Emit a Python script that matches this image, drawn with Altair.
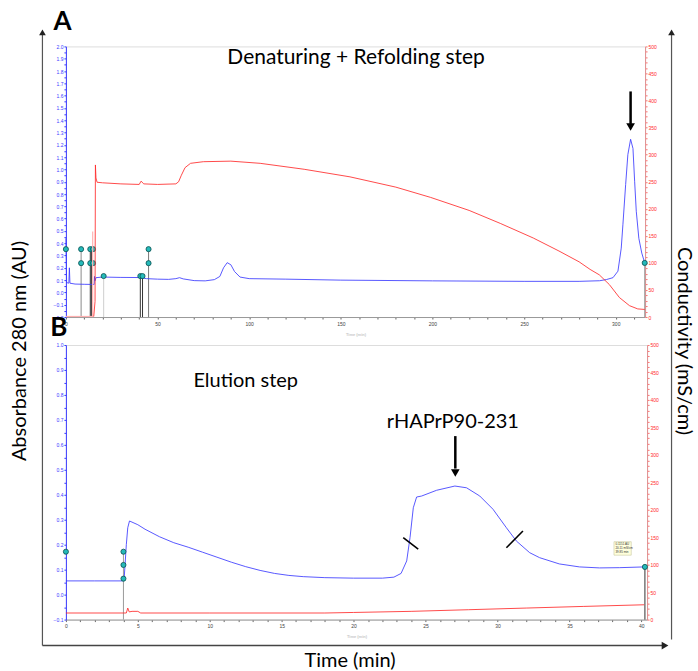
import altair as alt
import pandas as pd

# ---------------- Panel A : Denaturing + Refolding step ----------------
a_blue_t = [0, 0.4, 1.6, 1.9, 2.2, 5, 10, 14.8, 15.4, 15.6, 15.9, 16.4, 20, 30, 40, 44, 50, 56, 60, 62,
            64, 70, 76, 81, 84, 86, 88, 90, 92, 95, 100, 120, 150, 200, 250, 280, 291.2, 295, 298.5,
            301.2, 303, 303.9, 305.4, 306.6, 308.1, 309.4, 310.3, 311.2, 312.6, 314.2, 315.8]
a_blue_au = [0.44, 0.08, 0.075, 0.2, 0.075, 0.068, 0.066, 0.065, 0.065, 0.13, 0.095, 0.12, 0.125, 0.122,
             0.121, 0.112, 0.108, 0.106, 0.112, 0.12, 0.11, 0.096, 0.094, 0.104, 0.13, 0.2, 0.242, 0.225,
             0.17, 0.125, 0.112, 0.108, 0.1, 0.094, 0.09, 0.09, 0.095, 0.105, 0.12, 0.173, 0.36, 0.55,
             0.877, 1.12, 1.245, 1.17, 0.904, 0.66, 0.44, 0.32, 0.24]
a_red_t = [15.2, 15.9, 16.1, 16.4, 17, 20, 30, 40, 41, 42.5, 50, 60, 61.5, 63, 65, 68, 75, 90, 106,
           130, 155, 180, 199, 220, 237, 255, 269, 280, 286, 291, 296.5, 302, 307.5, 312, 315.8]
a_red_cond = [1, 29, 281, 257, 249, 248, 246, 245, 251, 246, 245, 246, 250, 262, 276, 284, 287, 288,
              284, 273, 259, 240, 221, 197, 173, 146, 122, 102, 88, 78, 60, 36, 21, 15, 14]
a_red_pale_t = [0, 15.2]
a_red_pale_cond = [1, 1]
a_mark_t = [0, 8.3, 8.3, 13.3, 13.3, 14.8, 14.8, 20.6, 40.6, 41.8, 45.1, 45.1, 315.8]
a_mark_au = [0.352, 0.352, 0.238, 0.352, 0.238, 0.352, 0.238, 0.133, 0.133, 0.133, 0.352, 0.238, 0.24]
a_drop_t = [8.3, 13.3, 13.9, 20.6, 40.6, 41.8, 45.1, 315.8]
a_drop_top = [0.352, 0.352, 0.352, 0.133, 0.133, 0.133, 0.352, 0.24]
a_drop_col = ['#8a8a8a', '#333333', '#333333', '#cfcfcf', '#333333', '#333333', '#777777', '#9a9a9a']

# ---------------- Panel B : Elution step ----------------
b_blue_t = [0, 2, 3.95, 4.05, 4.2, 4.3, 4.42, 5.0, 5.5, 6.5, 7.5, 8.5, 9.5, 10.5, 11.5, 12.5, 13.5,
            14.5, 15.5, 16.5, 18, 20, 22, 22.8, 23.3, 23.69, 23.92, 24.15, 24.38, 24.73, 25.77, 27.04,
            27.85, 28.77, 29.69, 30.62, 31.31, 32.24, 32.93, 34.3, 35.7, 37.1, 38.5, 40.2]
b_blue_au = [0.055, 0.055, 0.055, 0.064, 0.2, 0.268, 0.295, 0.28, 0.262, 0.232, 0.208, 0.19, 0.17,
             0.15, 0.13, 0.112, 0.097, 0.085, 0.077, 0.072, 0.068, 0.066, 0.066, 0.07, 0.085, 0.135,
             0.228, 0.348, 0.391, 0.395, 0.418, 0.435, 0.428, 0.395, 0.342, 0.268, 0.215, 0.168, 0.148,
             0.123, 0.111, 0.107, 0.108, 0.111]
b_red_t = [0, 4.2, 4.3, 4.4, 4.6, 5.0, 5.2, 10, 18, 20, 24, 28, 32, 36, 40.2]
b_red_cond = [12, 12, 21, 14, 15, 15, 12, 12, 12, 13, 15, 18, 21, 24, 27]
b_mark_t = [0, 4.0, 4.0, 4.0, 40.25]
b_mark_au = [0.172, 0.172, 0.119, 0.064, 0.111]
b_drop_t = [4.0, 40.25]
b_drop_top = [0.172, 0.111]
b_drop_col = ['#9a9a9a', '#333333']
b_slash_t = [23.45, 31.77]
b_slash_t2 = [24.49, 30.62]
b_slash_au = [0.228, 0.255]
b_slash_au2 = [0.182, 0.188]

BLUE = '#3b3bff'
RED = '#ff2a2a'
TICKFONT = 'Liberation Sans'
FONT = 'Lato'

def frange(a, b, step):
    n = int(round((b - a) / step))
    return [round(a + i * step, 3) + 0.0 for i in range(n + 1)]

def y_axis_blue(lo, hi):
    return alt.Axis(orient='left', values=frange(lo, hi, 0.05), title=None, grid=False,
                    labelExpr="abs(datum.value*10 - round(datum.value*10)) < 0.01 ? format(datum.value, '.1f') : ''",
                    labelFontSize=5, labelFont=TICKFONT, labelColor=BLUE, tickColor=BLUE, domainColor=BLUE,
                    tickSize=2, labelPadding=1, labelOverlap=False, labelFlush=False)

def y_axis_red():
    return alt.Axis(orient='right', values=list(range(0, 501, 10)), title=None, grid=False,
                    labelExpr="datum.value % 50 == 0 ? datum.value : ''",
                    labelFontSize=5, labelFont=TICKFONT, labelColor=RED, tickColor='#ff7070',
                    domainColor='#e09090', tickSize=2, labelPadding=1, labelOverlap=False, labelFlush=False)

def x_axis(maxv, step, lab):
    return alt.Axis(values=list(range(0, maxv + 1, step)), grid=False, title='Time (min)',
                    titleFontSize=4, titleColor='#c8c8c8', titleFont=TICKFONT, titlePadding=6,
                    labelExpr=f"datum.value % {lab} == 0 ? datum.value : ''",
                    labelFontSize=5, labelFont=TICKFONT, labelColor='#444', tickColor='#666',
                    domainColor='#999', tickSize=2, labelPadding=2, labelOverlap=False, labelFlush=False)

one = alt.Data(values=[{}])

def dtext(txt, x, y, size, angle=0, weight='normal'):
    return alt.Chart(one).mark_text(text=txt, fontSize=size, angle=angle, fontWeight=weight, font=FONT,
                                    align='center', baseline='middle', color='black').encode(
        x=alt.value(x), y=alt.value(y))

def drule(x, y, x2, y2, color='#555', w=1.0):
    return alt.Chart(one).mark_rule(color=color, strokeWidth=w).encode(
        x=alt.value(x), y=alt.value(y), x2=alt.value(x2), y2=alt.value(y2))

def dhead(x, y, shape, size=60, color='#444'):
    return alt.Chart(one).mark_point(shape=shape, filled=True, size=size, color=color, opacity=1).encode(
        x=alt.value(x), y=alt.value(y))

def panel(blue_t, blue_au, red_t, red_cond, mark_t, mark_au, drop_t, drop_top, drop_col,
          xdom, ydom, xmax, xstep, xlab, width, height, extra_blue, extra_red):
    X = lambda f: alt.X(f, scale=alt.Scale(domain=xdom, nice=False, zero=False), axis=x_axis(xmax, xstep, xlab))
    ys = alt.Scale(domain=ydom, nice=False, zero=False)
    ya = y_axis_blue(ydom[0], ydom[1])
    rs = alt.Scale(domain=[0, 500], nice=False)
    ra = y_axis_red()

    blue_df = pd.DataFrame({'t': blue_t, 'au': blue_au})
    red_df = pd.DataFrame({'t': red_t, 'cond': red_cond})
    mark_df = pd.DataFrame({'t': mark_t, 'au': mark_au})
    drop_df = pd.DataFrame({'t': drop_t, 'au': drop_top, 'au2': [ydom[0]] * len(drop_t), 'col': drop_col})

    drops = alt.Chart(drop_df).mark_rule(strokeWidth=1).encode(
        x=X('t:Q'), y=alt.Y('au:Q', scale=ys, axis=ya), y2='au2:Q', color=alt.Color('col:N', scale=None))
    bline = alt.Chart(blue_df).mark_line(color=BLUE, strokeWidth=1, opacity=0.85).encode(
        x=X('t:Q'), y=alt.Y('au:Q', scale=ys, axis=ya), order='t:Q')
    marks = alt.Chart(mark_df).mark_point(filled=True, fill='#25baba', stroke='#0b4f4f', strokeWidth=0.8,
                                          size=26, opacity=1).encode(
        x=X('t:Q'), y=alt.Y('au:Q', scale=ys, axis=ya))
    blue_group = alt.layer(drops, bline, marks, *[e(X, ys, ya) for e in extra_blue])

    rline = alt.Chart(red_df).mark_line(color=RED, strokeWidth=1, opacity=0.85).encode(
        x=X('t:Q'), y=alt.Y('cond:Q', scale=rs, axis=ra), order='t:Q')
    red_group = alt.layer(*[e(X, rs, ra) for e in extra_red], rline)

    return alt.layer(blue_group, red_group).resolve_scale(y='independent').properties(
        width=width, height=height)

# ---- extras for panel A ----
def a_bg(X, ys, ya):
    return alt.Chart(one).mark_rect(opacity=0).encode(
        x=alt.value(-65.5), x2=alt.value(632.5), y=alt.value(-45), y2=alt.value(626))

def a_title(X, ys, ya):
    df = pd.DataFrame({'t': [158.3], 'au': [1.902], 'txt': ['Denaturing + Refolding step']})
    return alt.Chart(df).mark_text(font=FONT, fontSize=21, color='black').encode(
        x=X('t:Q'), y=alt.Y('au:Q', scale=ys, axis=ya), text='txt:N')

def a_arrow(X, ys, ya):
    df = pd.DataFrame({'t': [308.1], 'au': [1.634], 'au2': [1.37], 'head': [1.345]})
    r = alt.Chart(df).mark_rule(color='black', strokeWidth=2.5).encode(
        x=X('t:Q'), y=alt.Y('au:Q', scale=ys, axis=ya), y2='au2:Q')
    h = alt.Chart(df).mark_point(shape='triangle-down', filled=True, size=75, color='black', opacity=1).encode(
        x=X('t:Q'), y=alt.Y('head:Q', scale=ys, axis=ya))
    return alt.layer(r, h)

def deco(X, ys, ya):
    return alt.layer(
        drule(-23.5, -12, -23.5, 600, '#555', 1.2),
        dhead(-23.5, -14, 'triangle-up', 45, '#222'),
        drule(606.5, -12, 606.5, 594, '#555', 1.2),
        dhead(606.5, -14, 'triangle-up', 45, '#222'),
        drule(-23.5, 600, 598, 600, '#444', 1.4),
        dhead(600, 600, 'triangle-right', 60, '#222'),
        dtext('Absorbance 280 nm (AU)', -45.5, 305, 20, angle=270),
        dtext('Conductivity (mS/cm)', 618.5, 295, 20, angle=90),
        dtext('Time (min)', 284.5, 615, 20),
        dtext('A', -3.5, -24, 26, weight='bold'),
        dtext('B', -7, 282, 26, weight='bold'),
    )

def a_pale(X, rs, ra):
    df = pd.DataFrame({'t': [14.6], 'c': [0], 'c2': [158]})
    sp = alt.Chart(df).mark_rule(color='#ffb4b4', strokeWidth=1.2).encode(
        x=X('t:Q'), y=alt.Y('c:Q', scale=rs, axis=ra), y2='c2:Q')
    pdf = pd.DataFrame({'t': a_red_pale_t, 'cond': a_red_pale_cond})
    base = alt.Chart(pdf).mark_line(color='#ffb0b0', strokeWidth=1.2).encode(
        x=X('t:Q'), y=alt.Y('cond:Q', scale=rs, axis=ra))
    return alt.layer(sp, base)

# ---- extras for panel B ----
def b_text(X, ys, ya):
    df = pd.DataFrame({'t': [12.5, 26.9], 'au': [0.855, 0.69], 'txt': ['Elution step', 'rHAPrP90-231']})
    return alt.Chart(df).mark_text(font=FONT, fontSize=20, color='black').encode(
        x=X('t:Q'), y=alt.Y('au:Q', scale=ys, axis=ya), text='txt:N')

def b_arrow(X, ys, ya):
    df = pd.DataFrame({'t': [27.07], 'au': [0.635], 'au2': [0.505], 'head': [0.487]})
    r = alt.Chart(df).mark_rule(color='black', strokeWidth=2.5).encode(
        x=X('t:Q'), y=alt.Y('au:Q', scale=ys, axis=ya), y2='au2:Q')
    h = alt.Chart(df).mark_point(shape='triangle-down', filled=True, size=75, color='black', opacity=1).encode(
        x=X('t:Q'), y=alt.Y('head:Q', scale=ys, axis=ya))
    return alt.layer(r, h)

def b_slash(X, ys, ya):
    df = pd.DataFrame({'t': b_slash_t, 't2': b_slash_t2, 'au': b_slash_au, 'au2': b_slash_au2})
    return alt.Chart(df).mark_rule(color='black', strokeWidth=1.6).encode(
        x=X('t:Q'), x2='t2:Q', y=alt.Y('au:Q', scale=ys, axis=ya), y2='au2:Q')

def b_box(X, ys, ya):
    df = pd.DataFrame({'t': [38.1], 't2': [39.3], 'au': [0.158], 'au2': [0.212]})
    box = alt.Chart(df).mark_rect(fill='#ffffdc', stroke='#c8c8a0', strokeWidth=0.6).encode(
        x=X('t:Q'), x2='t2:Q', y=alt.Y('au:Q', scale=ys, axis=ya), y2='au2:Q')
    tdf = pd.DataFrame({'t': [38.2, 38.2, 38.2], 'au': [0.201, 0.186, 0.171],
                        'txt': ['0.1151 AU', '20.11 mS/cm', '39.85 min']})
    txt = alt.Chart(tdf).mark_text(fontSize=3, font=TICKFONT, align='left', color='#333').encode(
        x=X('t:Q'), y=alt.Y('au:Q', scale=ys, axis=ya), text='txt:N')
    return alt.layer(box, txt)

panelA = panel(a_blue_t, a_blue_au, a_red_t, a_red_cond, a_mark_t, a_mark_au, a_drop_t, a_drop_top,
               a_drop_col, [0, 316], [-0.2, 2.0], 316, 10, 50, 580, 271,
               [a_bg, deco, a_title, a_arrow], [a_pale])
panelB = panel(b_blue_t, b_blue_au, b_red_t, b_red_cond, b_mark_t, b_mark_au, b_drop_t, b_drop_top,
               b_drop_col, [0, 40.4], [-0.1, 1.0], 40, 1, 5, 582, 275,
               [b_text, b_arrow, b_slash, b_box], [])

chart = alt.vconcat(panelA, panelB, spacing=28).properties(
    bounds='flush', padding=0
).resolve_scale(x='independent', y='independent').configure_view(
    stroke='#8c8c8c', strokeWidth=1
).configure(background='white')

chart.save("out.html", embed_options={"renderer": "svg", "actions": False})
